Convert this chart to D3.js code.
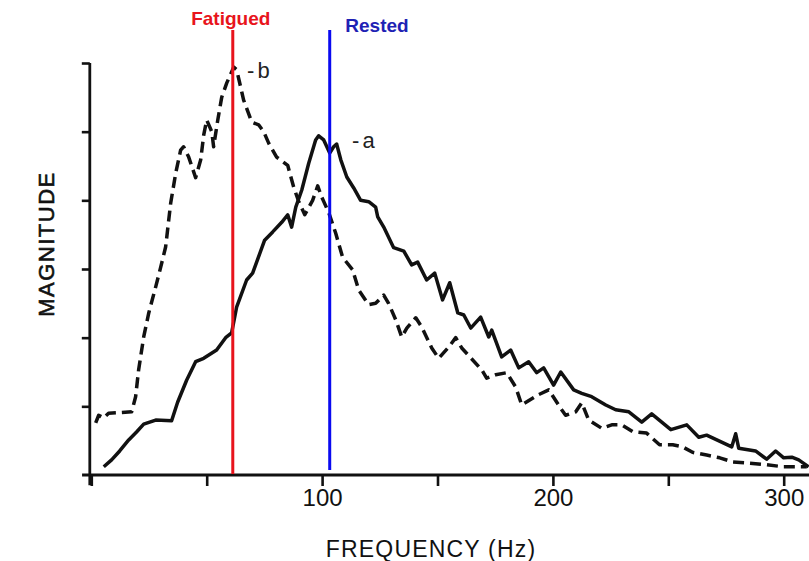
<!DOCTYPE html>
<html>
<head>
<meta charset="utf-8">
<script src="https://cdn.jsdelivr.net/npm/d3@7/dist/d3.min.js"></script>
<style>
  html, body { margin: 0; padding: 0; background: #ffffff; }
  svg { display: block; }
  text { font-family: "Liberation Sans", Arial, sans-serif; }
</style>
</head>
<body>
<svg id="chart" width="809" height="561"></svg>
<script>
// Curve a (solid): frequency in Hz, magnitude in arbitrary units
const freqA = [5.4, 8.8, 12.3, 16.2, 19.7, 22.7, 27.9, 34.8, 37.4, 41.3, 45.2, 48.7, 54.3, 58.2, 60.8, 63.0,
  67.3, 69.9, 75.1, 78.6, 82.5, 85.1, 86.8, 88.6, 91.2, 94.2, 97.2, 98.5, 100.7, 103.3, 105.0, 106.3,
  108.1, 110.7, 113.7, 116.7, 120.2, 123.2, 124.1, 126.7, 131.0, 135.4, 138.8, 141.4, 145.3, 148.8,
  152.2, 155.3, 158.8, 161.4, 164.4, 168.7, 172.2, 173.5, 177.8, 181.7, 185.2, 189.5, 193.0, 196.0,
  200.3, 203.4, 209.0, 212.5, 216.8, 222.9, 227.2, 232.9, 238.5, 242.8, 251.1, 258.0, 263.2, 266.6,
  277.5, 279.2, 280.5, 287.8, 292.6, 296.5, 300.0, 303.5, 306.5, 310.8];
const magA = [0.12, 0.22, 0.35, 0.51, 0.63, 0.74, 0.80, 0.79, 1.06, 1.38, 1.65, 1.70, 1.82, 2.00, 2.07, 2.45,
  2.84, 2.94, 3.42, 3.54, 3.68, 3.79, 3.61, 3.90, 4.15, 4.54, 4.88, 4.94, 4.88, 4.69, 4.78, 4.82,
  4.59, 4.34, 4.18, 4.00, 3.98, 3.90, 3.76, 3.61, 3.31, 3.26, 3.06, 3.10, 2.84, 2.94,
  2.55, 2.80, 2.36, 2.33, 2.14, 2.30, 2.01, 2.11, 1.72, 1.82, 1.56, 1.65, 1.49, 1.56,
  1.31, 1.50, 1.24, 1.19, 1.14, 1.02, 0.95, 0.92, 0.77, 0.89, 0.66, 0.73, 0.55, 0.58,
  0.41, 0.60, 0.39, 0.35, 0.23, 0.35, 0.25, 0.26, 0.22, 0.12];

// Curve b (dashed)
const freqB = [1.9, 3.2, 5.4, 7.5, 17.5, 19.2, 20.5, 22.7, 24.9, 27.9, 30.1, 32.2, 34.4, 36.6, 38.7, 40.0,
  42.2, 45.2, 47.4, 48.7, 50.0, 52.2, 53.0, 54.8, 56.5, 58.7, 61.7, 63.0, 66.0, 69.5, 72.5, 74.7,
  76.9, 80.3, 85.1, 87.7, 89.9, 92.5, 95.9, 98.1, 99.8, 102.9, 105.9, 108.9, 113.2, 115.9, 120.2,
  123.2, 126.7, 128.8, 131.9, 134.5, 136.7, 140.6, 143.1, 147.5, 150.5, 154.8, 157.9, 160.5, 169.2,
  171.3, 175.2, 180.0, 183.9, 186.5, 193.8, 198.2, 203.8, 205.5, 209.9, 212.5, 215.5, 221.2, 225.5,
  229.8, 234.6, 240.6, 246.2, 251.9, 256.2, 260.5, 266.6, 272.3, 277.9, 285.3, 292.6, 299.6, 310.0];
const magB = [0.76, 0.87, 0.83, 0.90, 0.92, 1.14, 1.53, 2.01, 2.36, 2.74, 3.03, 3.32, 3.96, 4.40, 4.73, 4.78,
  4.63, 4.33, 4.59, 4.95, 5.17, 5.00, 4.78, 5.17, 5.50, 5.71, 5.94, 5.90, 5.46, 5.14, 5.10, 5.00,
  4.83, 4.63, 4.51, 4.19, 3.98, 3.79, 4.00, 4.21, 4.05, 3.82, 3.52, 3.17, 2.99, 2.69, 2.48,
  2.50, 2.62, 2.50, 2.26, 2.01, 2.14, 2.29, 2.16, 1.85, 1.70, 1.86, 2.00, 1.85, 1.53,
  1.41, 1.46, 1.49, 1.28, 1.02, 1.17, 1.24, 0.95, 0.87, 0.92, 1.05, 0.80, 0.68, 0.73,
  0.73, 0.63, 0.61, 0.44, 0.44, 0.41, 0.33, 0.29, 0.25, 0.19, 0.17, 0.15, 0.12, 0.12];

// Axis ticks
const xTicks = [0, 50, 100, 150, 200, 250, 300];
const xLabelled = [100, 200, 300];
const yTicks = [1, 2, 3, 4, 5, 6];

// Median-frequency markers
const markers = [
  { label: "Fatigued", hz: 61.3, line: "#e8141c", text: "#e8141c" },
  { label: "Rested", hz: 103.3, line: "#0a0af0", text: "#1e22b4" }
];

const svg = d3.select("#chart");
const W = 809, H = 561;

const x = d3.scaleLinear().domain([0, 300]).range([91.3, 783.7]);
const y = d3.scaleLinear().domain([0, 6]).range([475, 63]);

svg.append("rect").attr("width", W).attr("height", H).attr("fill", "#ffffff");

// Axis lines, extended a little past the origin
svg.append("line")
  .attr("x1", x(-4)).attr("x2", W)
  .attr("y1", y(0)).attr("y2", y(0))
  .attr("stroke", "#111").attr("stroke-width", 2.8);
svg.append("line")
  .attr("x1", x(0) - 1.5).attr("x2", x(0) - 1.5)
  .attr("y1", y(6)).attr("y2", y(-0.15))
  .attr("stroke", "#111").attr("stroke-width", 2.8);

// X axis ticks and labels
const xAxis = d3.axisBottom(x)
  .tickValues(xTicks)
  .tickSize(11)
  .tickPadding(3)
  .tickFormat(d => xLabelled.includes(d) ? String(d) : "");
const gx = svg.append("g").attr("transform", `translate(0,${y(0)})`).call(xAxis);
gx.select(".domain").remove();
gx.selectAll(".tick line").attr("stroke", "#111").attr("stroke-width", 2.6);
gx.selectAll(".tick text")
  .attr("fill", "#111")
  .style("font-size", "24px")
  .style("font-family", "'Liberation Sans', Arial, sans-serif");

// Y axis ticks, unlabelled
const yAxis = d3.axisLeft(y)
  .tickValues(yTicks)
  .tickSize(8)
  .tickFormat("");
const gy = svg.append("g").attr("transform", `translate(${x(0) - 1.5},0)`).call(yAxis);
gy.select(".domain").remove();
gy.selectAll(".tick line").attr("stroke", "#111").attr("stroke-width", 2.6);

// Curves
const line = d3.line().x(d => x(d[0])).y(d => y(d[1]));
const ptsA = freqA.map((f, i) => [f, magA[i]]);
const ptsB = freqB.map((f, i) => [f, magB[i]]);

svg.append("path")
  .datum(ptsB)
  .attr("d", line)
  .attr("fill", "none")
  .attr("stroke", "#111")
  .attr("stroke-width", 3.5)
  .attr("stroke-dasharray", "11,6")
  .attr("stroke-linejoin", "round");

svg.append("path")
  .datum(ptsA)
  .attr("d", line)
  .attr("fill", "none")
  .attr("stroke", "#111")
  .attr("stroke-width", 3.5)
  .attr("stroke-linejoin", "round");

// Curve labels
svg.append("text")
  .attr("x", x(67.5)).attr("y", 78)
  .attr("fill", "#222")
  .style("font-size", "22px")
  .style("letter-spacing", "3px")
  .text("-b");
svg.append("text")
  .attr("x", x(113.0)).attr("y", 148)
  .attr("fill", "#222")
  .style("font-size", "22px")
  .style("letter-spacing", "3px")
  .text("-a");

// Marker lines and their labels
markers.forEach((m, i) => {
  svg.append("line")
    .attr("x1", x(m.hz)).attr("x2", x(m.hz))
    .attr("y1", 30).attr("y2", i === 0 ? 474 : 470)
    .attr("stroke", m.line)
    .attr("stroke-width", 3);
});
svg.append("text")
  .attr("x", x(markers[0].hz) - 2).attr("y", 25)
  .attr("text-anchor", "middle")
  .attr("fill", markers[0].text)
  .style("font-size", "19px").style("font-weight", "bold")
  .text(markers[0].label);
svg.append("text")
  .attr("x", 377).attr("y", 32)
  .attr("text-anchor", "middle")
  .attr("fill", markers[1].text)
  .style("font-size", "19px").style("font-weight", "bold")
  .text(markers[1].label);

// Axis titles
svg.append("text")
  .attr("transform", `translate(54,244) rotate(-90)`)
  .attr("text-anchor", "middle")
  .attr("fill", "#111")
  .attr("stroke", "#111")
  .attr("stroke-width", 0.6)
  .style("font-size", "22px")
  .style("letter-spacing", "1.5px")
  .text("MAGNITUDE");
svg.append("text")
  .attr("x", 431).attr("y", 557)
  .attr("text-anchor", "middle")
  .attr("fill", "#111")
  .style("font-size", "23px")
  .style("letter-spacing", "1.2px")
  .text("FREQUENCY (Hz)");
</script>
</body>
</html>
